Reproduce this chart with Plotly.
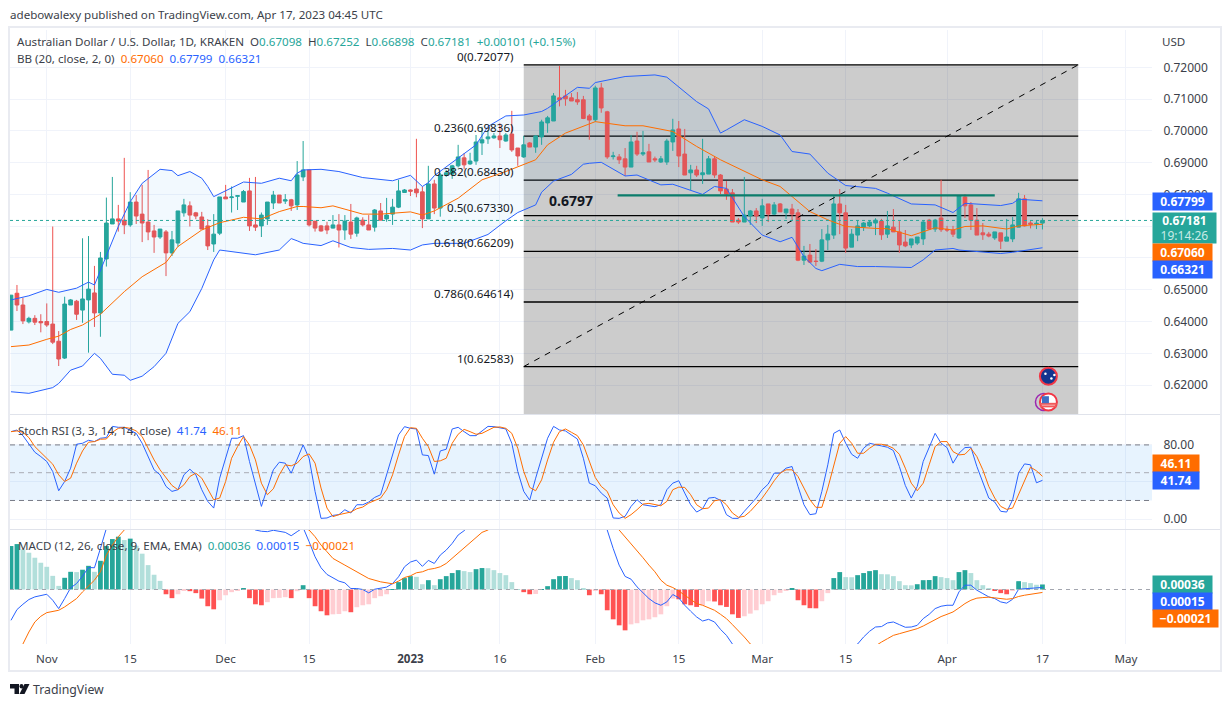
import pandas as pd
import plotly.graph_objects as go
from plotly.subplots import make_subplots

dates = pd.date_range("2022-10-26", periods=174)

opens = [
    .6373, .6489, .6452, .6399, .6410, .6400, .6400, .6392, .6338, .6285,
    .6452, .6464, .6436, .6468, .6490, .6427, .6597, .6707, .6723, .6719,
    .6704, .6776, .6738, .6713, .6685, .6666, .6682, .6616, .6647, .6742,
    .6764, .6742, .6729, .6701, .6644, .6678, .6792, .6790, .6794, .6776,
    .6811, .6704, .6701, .6723, .6773, .6798, .6779, .6783, .6767, .6855,
    .6877, .6716, .6701, .6701, .6694, .6704, .6688, .6713, .6678, .6719,
    .6704, .6697, .6748, .6723, .6738, .6760, .6806, .6814, .6817, .6808,
    .6723, .6833, .6757, .6862, .6864, .6890, .6915, .6896, .6905, .6962,
    .6975, .6978, .6984, .6968, .6990, .6946, .6918, .6962, .6949, .6981,
    .7025, .7031, .7104, .7110, .7104, .7098, .7098, .7047, .7035, .7135,
    .7060, .6919, .6918, .6912, .6886, .6968, .6927, .6934, .6912, .6902,
    .6902, .6965, .7006, .6927, .6868, .6877, .6862, .6864, .6912, .6861,
    .6817, .6805, .6719, .6713, .6732, .6748, .6726, .6770, .6738, .6770,
    .6742, .6754, .6742, .6593, .6609, .6590, .6590, .6657, .6672, .6770,
    .6742, .6634, .6672, .6697, .6701, .6710, .6716, .6675, .6697, .6682,
    .6650, .6641, .6647, .6660, .6719, .6691, .6726, .6690, .6688, .6663,
    .6792, .6767, .6719, .6679, .6675, .6663, .6679, .6653, .6660, .6697,
    .6786, .6710, .6707, .67098,
]
highs = [
    .6483, .6515, .6475, .6415, .6420, .6423, .6457, .6699, .6370, .6478,
    .6471, .6468, .6662, .6669, .6575, .6619, .6790, .6855, .6767, .6915,
    .6807, .6798, .6830, .6877, .6704, .6691, .6688, .6685, .6748, .6786,
    .6778, .6745, .6745, .6722, .6738, .6792, .6830, .6825, .6798, .6814,
    .6852, .6855, .6743, .6776, .6811, .6798, .6801, .6786, .6905, .6968,
    .6877, .6716, .6704, .6714, .6735, .6738, .6735, .6770, .6730, .6728,
    .6735, .6754, .6773, .6789, .6786, .6846, .6817, .6816, .6975, .6825,
    .6890, .6846, .6867, .6877, .6893, .6956, .6930, .6931, .6987, .7013,
    .7003, .6993, .7024, .6993, .7063, .6946, .6984, .6965, .6987, .7035,
    .7047, .7119, .7204, .7129, .7119, .7122, .7110, .7053, .7142, .7151,
    .7063, .6934, .6927, .6946, .6987, .6997, .7000, .6959, .6919, .6921,
    .6975, .7038, .7031, .7006, .6893, .6890, .6975, .6921, .6921, .6864,
    .6842, .6817, .6726, .6855, .6751, .6757, .6786, .6770, .6776, .6773,
    .6754, .6770, .6754, .6638, .6644, .6628, .6691, .6704, .6795, .6817,
    .6767, .6691, .6719, .6713, .6719, .6725, .6723, .6748, .6754, .6716,
    .6688, .6660, .6666, .6719, .6723, .6723, .6846, .6701, .6701, .6795,
    .6801, .6776, .6757, .6710, .6682, .6682, .6679, .6723, .6729, .6805,
    .6798, .6716, .6719, .67252,
]
lows = [
    .6373, .6433, .6392, .6394, .6389, .6366, .6383, .6329, .6260, .6282,
    .6452, .6405, .6396, .6302, .6383, .6352, .6573, .6707, .6683, .6675,
    .6698, .6707, .6650, .6656, .6616, .6660, .6543, .6606, .6635, .6730,
    .6699, .6722, .6691, .6625, .6619, .6672, .6786, .6743, .6751, .6776,
    .6685, .6685, .6666, .6704, .6754, .6773, .6770, .6748, .6751, .6842,
    .6699, .6683, .6683, .6675, .6693, .6633, .6657, .6660, .6667, .6699,
    .6688, .6683, .6719, .6714, .6704, .6757, .6805, .6795, .6791, .6694,
    .6723, .6738, .6730, .6855, .6849, .6885, .6879, .6893, .6893, .6924,
    .6959, .6975, .6946, .6966, .6934, .6890, .6915, .6949, .6931, .6956,
    .6994, .7031, .7077, .7079, .7094, .7082, .7037, .6972, .7028, .7057,
    .6912, .6910, .6896, .6858, .6886, .6921, .6921, .6902, .6902, .6899,
    .6893, .6937, .6886, .6861, .6814, .6855, .6833, .6864, .6852, .6801,
    .6783, .6713, .6707, .6713, .6704, .6710, .6701, .6713, .6735, .6745,
    .6723, .6719, .6590, .6578, .6584, .6575, .6587, .6625, .6660, .6675,
    .6616, .6634, .6653, .6685, .6697, .6672, .6657, .6663, .6682, .6616,
    .6634, .6631, .6641, .6641, .6688, .6682, .6682, .6682, .6666, .6660,
    .6726, .6688, .6672, .6657, .6665, .6657, .6628, .6653, .6650, .6697,
    .6699, .6693, .6691, .66898,
]
closes = [
    .6483, .6452, .6402, .6410, .6398, .6396, .6389, .6335, .6282, .6455,
    .6468, .6423, .6471, .6502, .6427, .6600, .6710, .6723, .6716, .6704,
    .6776, .6732, .6710, .6682, .6666, .6691, .6616, .6657, .6748, .6767,
    .6735, .6732, .6691, .6638, .6675, .6792, .6786, .6792, .6796, .6809,
    .6701, .6697, .6735, .6776, .6798, .6773, .6783, .6764, .6861, .6877,
    .6704, .6694, .6685, .6688, .6704, .6688, .6716, .6675, .6726, .6704,
    .6688, .6751, .6719, .6735, .6760, .6811, .6814, .6810, .6805, .6723,
    .6833, .6757, .6861, .6868, .6890, .6918, .6893, .6905, .6965, .6972,
    .6981, .6984, .6972, .6987, .6940, .6921, .6956, .6949, .6984, .7028,
    .7041, .7110, .7098, .7101, .7094, .7091, .7039, .7034, .7135, .7072,
    .6918, .6921, .6909, .6886, .6965, .6927, .6931, .6902, .6909, .6912,
    .6968, .7003, .6921, .6861, .6877, .6861, .6868, .6912, .6861, .6811,
    .6801, .6713, .6713, .6735, .6748, .6732, .6764, .6738, .6767, .6745,
    .6754, .6738, .6593, .6606, .6587, .6589, .6657, .6675, .6770, .6742,
    .6631, .6675, .6701, .6710, .6713, .6719, .6673, .6701, .6682, .6641,
    .6638, .6660, .6666, .6713, .6691, .6719, .6689, .6688, .6675, .6795,
    .6764, .6719, .6672, .6673, .6669, .6682, .6653, .6666, .6704, .6786,
    .6701, .6706, .6709, .67181,
]

# bollinger bands, read at the bars where the line bends (bar number from 1)
bb_upper_bars = [1, 4, 7, 9, 12, 14, 15, 16, 17, 19, 21, 23, 26, 28, 29, 31, 33, 34, 35, 37, 40, 43, 46, 48, 49,
                 50, 53, 56, 60, 65, 68, 70, 71, 72, 76, 79, 81, 84, 87, 90, 91, 96, 98, 99, 104, 109, 111, 116,
                 118, 120, 121, 124, 127, 130, 132, 135, 138, 141, 146, 148, 152, 156, 159, 161, 167, 169, 170, 174]
bb_upper = [.6468, .6481, .6501, .6492, .6505, .6524, .6515, .6562, .6604, .6699, .6777, .6835, .6879, .6875, .6859,
            .6872, .6851, .6825, .6793, .6812, .6839, .6835, .6851, .6843, .6867, .6877, .6879, .6872, .6853, .6843,
            .6860, .6825, .6837, .6859, .6914, .6956, .7014, .7047, .7050, .7061, .7071, .7137, .7134, .7152, .7171,
            .7176, .7169, .7092, .7069, .6993, .7003, .7035, .7014, .6987, .6935, .6927, .6867, .6828, .6819, .6804,
            .6770, .6767, .6743, .6772, .6765, .6772, .6785, .67799]
bb_lower_bars = [1, 4, 8, 9, 11, 13, 15, 16, 18, 20, 21, 23, 25, 27, 29, 31, 33, 35, 36, 40, 42, 46, 48, 49, 50, 53,
                 55, 58, 61, 65, 68, 70, 72, 77, 81, 84, 86, 89, 90, 92, 95, 97, 98, 100, 104, 106, 110, 112, 117,
                 119, 121, 124, 127, 130, 132, 134, 136, 137, 140, 143, 146, 152, 154, 156, 159, 160, 167, 169, 174]
bb_lower = [.6179, .6174, .6192, .6205, .6247, .6260, .6300, .6284, .6234, .6231, .6215, .6228, .6258, .6300, .6394,
            .6431, .6504, .6594, .6625, .6614, .6610, .6625, .6661, .6654, .6646, .6639, .6654, .6633, .6627, .6630,
            .6625, .6641, .6646, .6646, .6674, .6717, .6743, .6767, .6807, .6842, .6863, .6895, .6898, .6901, .6858,
            .6861, .6830, .6832, .6800, .6825, .6819, .6730, .6672, .6651, .6665, .6604, .6567, .6560, .6580, .6573,
            .6573, .6570, .6594, .6625, .6630, .6625, .6614, .6618, .66321]
bb_mid_bars = [1, 4, 7, 9, 11, 13, 16, 20, 23, 27, 29, 33, 36, 40, 43, 46, 49, 50, 53, 55, 60, 63, 68, 70, 72, 76,
               80, 84, 89, 91, 94, 97, 99, 104, 107, 112, 116, 120, 123, 127, 130, 132, 135, 138, 141, 146, 148,
               152, 156, 159, 161, 164, 168, 170, 174]
bb_mid = [.6321, .6326, .6344, .6354, .6375, .6389, .6423, .6494, .6541, .6586, .6636, .6688, .6711, .6728, .6723,
          .6746, .6762, .6762, .6758, .6764, .6738, .6738, .6745, .6735, .6748, .6788, .6846, .6872, .6909, .6956,
          .6993, .7016, .7029, .7016, .7016, .6998, .6951, .6909, .6882, .6846, .6825, .6793, .6746, .6720, .6699,
          .6693, .6692, .6670, .6695, .6688, .6699, .6701, .6691, .6701, .67060]

stoch_k = [
    94.3, 96.1, 90.0, 80.7, 72.1, 67.4, 62.1, 51.3, 30.5, 40.5,
    54.9, 80.7, 81.8, 85.0, 83.6, 87.2, 87.9, 100.0, 99.0, 99.0,
    96.1, 92.5, 81.8, 67.4, 53.1, 47.7, 35.2, 29.8, 31.6, 47.7,
    53.8, 47.7, 31.6, 19.0, 11.8, 44.1, 65.6, 87.2, 87.2, 90.0,
    62.1, 36.9, 13.6, 33.4, 53.1, 61.3, 60.3, 49.5, 65.6, 80.0,
    65.6, 29.8, 0.7, 1.1, 3.9, 4.7, 10.0, 6.5, 15.4, 15.4,
    18.3, 23.3, 26.2, 47.7, 69.2, 90.8, 99.7, 97.9, 97.2, 69.2,
    68.5, 48.4, 73.5, 75.3, 97.2, 99.0, 94.3, 90.0, 90.0, 95.4,
    100.0, 99.7, 98.6, 97.2, 81.8, 51.3, 29.8, 20.4, 44.1, 65.6,
    87.2, 100.0, 96.1, 95.1, 90.8, 86.4, 65.6, 38.7, 35.9, 28.0,
    22.6, 1.1, 0.7, 2.9, 13.6, 20.8, 15.4, 14.3, 13.3, 15.4,
    31.6, 38.7, 41.3, 28.0, 15.4, 7.5, 11.1, 22.6, 23.3, 20.1,
    4.7, 0.7, 0.7, 8.3, 15.4, 22.6, 31.6, 37.7, 49.5, 49.5,
    54.9, 56.7, 35.2, 15.4, 4.7, 5.7, 29.8, 58.5, 92.5, 96.1,
    81.8, 69.9, 65.6, 76.4, 81.8, 80.0, 78.9, 77.5, 73.9, 56.7,
    36.2, 22.6, 35.2, 62.1, 76.4, 92.5, 81.8, 77.1, 60.3, 71.0,
    77.1, 77.5, 56.7, 38.7, 22.6, 18.3, 8.3, 7.5, 20.8, 49.5,
    59.5, 58.5, 39.1, 41.74,
]
stoch_d = [
    94.3, 95.1, 93.6, 87.9, 78.2, 72.1, 66.4, 59.2, 47.7, 40.5,
    44.1, 60.3, 73.5, 82.9, 83.6, 86.1, 86.4, 93.6, 97.9, 99.0,
    97.9, 95.1, 89.0, 76.4, 63.8, 53.1, 44.1, 36.2, 31.6, 36.9,
    45.9, 49.5, 44.1, 32.6, 20.8, 22.6, 40.5, 65.6, 78.2, 89.0,
    80.0, 63.8, 38.7, 26.2, 32.6, 47.7, 58.5, 57.4, 60.3, 67.4,
    70.3, 60.3, 33.4, 11.8, 2.5, 4.7, 6.5, 7.5, 11.1, 12.9,
    17.2, 19.7, 22.6, 31.6, 47.7, 69.2, 89.0, 98.6, 97.9, 87.2,
    78.2, 62.1, 62.8, 65.6, 81.8, 91.5, 96.8, 94.3, 91.5, 92.5,
    96.1, 99.0, 99.4, 97.9, 92.5, 76.4, 51.3, 34.1, 30.5, 42.3,
    63.8, 82.9, 94.3, 97.2, 93.6, 90.0, 80.0, 62.1, 44.8, 35.2,
    29.8, 15.4, 6.5, 0.7, 4.7, 10.0, 16.1, 16.9, 15.4, 14.3,
    19.0, 31.6, 34.4, 34.1, 26.2, 15.4, 11.1, 11.8, 19.7, 20.8,
    15.4, 6.5, 1.8, 2.9, 8.3, 15.4, 22.6, 31.6, 41.3, 49.5,
    53.1, 53.1, 45.9, 33.4, 20.8, 12.6, 12.6, 33.4, 58.5, 81.8,
    89.0, 81.8, 71.0, 71.0, 76.4, 80.7, 80.7, 79.3, 76.4, 69.9,
    54.9, 38.7, 30.5, 38.7, 58.5, 78.2, 83.6, 83.6, 72.8, 69.2,
    69.9, 76.4, 67.4, 53.1, 35.2, 22.6, 13.6, 10.4, 11.8, 26.2,
    42.3, 56.0, 52.0, 46.11,
]

macd_hist = [
    .00312, .00326, .00288, .00264, .00228, .00192, .00163, .00098, .00026, .00084,
    .00127, .00125, .00142, .00170, .00127, .00206, .00312, .00362, .00379, .00355,
    .00365, .00314, .00257, .00175, .00106, .00062, -.00034, -.00062, -.00034, -.00007,
    -.00012, -.00026, -.00065, -.00120, -.00142, -.00077, -.00041, -.00019, -.00005, .00010,
    -.00062, -.00106, -.00113, -.00091, -.00062, -.00060, -.00055, -.00062, -.00012, .00031,
    -.00062, -.00120, -.00156, -.00185, -.00178, -.00176, -.00156, -.00163, -.00127, -.00113,
    -.00106, -.00062, -.00048, -.00034, .00002, .00053, .00082, .00096, .00091, .00038,
    .00067, .00031, .00074, .00096, .00118, .00139, .00132, .00125, .00146, .00154,
    .00153, .00139, .00118, .00103, .00053, .00002, -.00019, -.00034, -.00032, .00002,
    .00024, .00074, .00096, .00097, .00082, .00067, .00010, -.00041, -.00005, -.00034,
    -.00149, -.00214, -.00257, -.00293, -.00250, -.00242, -.00221, -.00214, -.00199, -.00178,
    -.00120, -.00065, -.00070, -.00106, -.00113, -.00125, -.00113, -.00084, -.00086, -.00113,
    -.00125, -.00178, -.00204, -.00192, -.00173, -.00149, -.00106, -.00084, -.00041, -.00024,
    -.00005, .00010, -.00077, -.00113, -.00134, -.00135, -.00084, -.00026, .00082, .00125,
    .00089, .00088, .00103, .00118, .00132, .00139, .00110, .00109, .00096, .00060,
    .00031, .00030, .00038, .00067, .00068, .00096, .00089, .00082, .00067, .00125,
    .00139, .00118, .00067, .00031, .00010, -.00007, -.00026, -.00034, -.00010, .00060,
    .00053, .00046, .00034, .00036,
]

macd_bars = [1, 2, 3, 4, 5, 6, 7, 8, 9, 10, 11, 12, 13, 14, 15, 16, 17, 18, 20, 26, 32, 38, 42, 43, 44, 45, 47, 48,
             49, 50, 51, 52, 53, 54, 56, 57, 58, 59, 60, 61, 62, 63, 64, 65, 66, 67, 68, 69, 70, 71, 72, 73, 74, 75,
             76, 77, 78, 84, 90, 96, 101, 102, 103, 104, 105, 106, 107, 108, 109, 110, 111, 112, 113, 114, 115, 116,
             117, 118, 119, 120, 121, 122, 123, 128, 134, 140, 143, 144, 145, 146, 147, 148, 149, 150, 151, 152,
             153, 154, 155, 156, 157, 158, 159, 160, 161, 162, 163, 164, 165, 166, 167, 168, 169, 170, 171, 172,
             173, 174]
macd_line = [-.00221, -.00144, -.00106, -.00072, -.00053, -.00041, -.00034, -.00077, -.00137, -.00065, .00012, .00043,
             .00096, .00158, .00156, .00295, .00463, .00583, .00703, .00823, .00727, .00535, .00427, .00418, .00415,
             .00425, .00410, .00386, .00415, .00444, .00343, .00235, .00156, .00108, .00060, .00048, .00007, .00007,
             .00000, -.00024, .00002, .00007, .00017, .00043, .00091, .00163, .00197, .00211, .00166, .00209, .00187,
             .00247, .00283, .00331, .00391, .00422, .00463, .00655, .00739, .00607, .00427, .00295, .00175, .00094,
             .00074, .00019, -.00022, -.00065, -.00096, -.00113, -.00089, -.00036, -.00060, -.00113, -.00156, -.00197,
             -.00226, -.00214, -.00233, -.00286, -.00329, -.00391, -.00497, -.00641, -.00641, -.00473, -.00391, -.00341,
             -.00300, -.00269, -.00266, -.00240, -.00233, -.00252, -.00271, -.00269, -.00257, -.00209, -.00178, -.00137,
             -.00120, -.00113, -.00113, -.00017, .00031, .00031, -.00005, -.00029, -.00053, -.00065, -.00089, -.00098,
             -.00070, .00002, .00005, .00007, .00010, .00015]
signal_bars = [1, 2, 3, 4, 5, 6, 7, 8, 9, 10, 11, 12, 13, 14, 15, 16, 17, 18, 19, 20, 26, 32, 38, 44, 51, 52, 53, 54,
               55, 57, 59, 61, 63, 65, 66, 67, 68, 69, 70, 71, 72, 73, 74, 75, 76, 77, 78, 79, 80, 81, 86, 92, 98, 103,
               104, 105, 106, 107, 108, 109, 110, 111, 112, 113, 114, 115, 116, 117, 118, 119, 120, 121, 122, 123,
               124, 125, 132, 140, 146, 147, 148, 149, 150, 151, 152, 153, 154, 155, 156, 157, 158, 159, 160, 161,
               162, 163, 164, 165, 166, 167, 168, 169, 170, 171, 172, 173, 174]
signal_line = [-.00500, -.00440, -.00391, -.00305, -.00233, -.00192, -.00166, -.00156, -.00149, -.00125, -.00094,
               -.00065, -.00017, .00026, .00067, .00127, .00247, .00319, .00379, .00427, .00727, .00823, .00727, .00535,
               .00427, .00379, .00319, .00271, .00223, .00175, .00127, .00079, .00055, .00041, .00060, .00086, .00098,
               .00120, .00127, .00144, .00151, .00163, .00187, .00223, .00259, .00295, .00331, .00367, .00410, .00427,
               .00583, .00703, .00583, .00427, .00379, .00331, .00276, .00228, .00175, .00127, .00067, .00031, .00014,
               -.00010, -.00041, -.00070, -.00101, -.00113, -.00132, -.00149, -.00178, -.00209, -.00252, -.00293,
               -.00341, -.00391, -.00593, -.00569, -.00401, -.00377, -.00353, -.00329, -.00317, -.00305, -.00298,
               -.00281, -.00262, -.00238, -.00216, -.00194, -.00178, -.00161, -.00132, -.00101, -.00077, -.00062,
               -.00058, -.00055, -.00060, -.00067, -.00070, -.00065, -.00050, -.00041, -.00034, -.00026, -.00021]

fib_ratios = ["0", "0.236", "0.382", "0.5", "0.618", "0.786", "1"]
fib_levels = [.72077, .69836, .68450, .67330, .66209, .64614, .62583]
fib_start = "2023-01-20"
fib_end = "2023-04-23"

resistance_level = 0.6797
resistance_start = "2023-02-04 18:00"
resistance_end = "2023-04-09"
last_price = 0.67181

price_ticks = [.62, .63, .64, .65, .66, .67, .68, .69, .70, .71, .72]
price_labels = ["0.62000", "0.63000", "0.64000", "0.65000", "", "", "0.68000", "0.69000", "0.70000", "0.71000",
                "0.72000"]
x_ticks = ["2022-11-01", "2022-11-15", "2022-12-01", "2022-12-15", "2023-01-01", "2023-01-16", "2023-02-01",
           "2023-02-15", "2023-03-01", "2023-03-15", "2023-04-01", "2023-04-17", "2023-05-01"]
x_labels = ["Nov", "15", "Dec", "15", "<b>2023</b>", "16", "Feb", "15", "Mar", "15", "Apr", "17", "May"]

GREEN = "#26a69a"
RED = "#ef5350"
BLUE = "#2962ff"
ORANGE = "#ff6d00"
GRID = "#f0f3fa"
TEXT = "#3c3f4a"
FONT = "Noto Sans"
W, H = 1232, 707
PRICE_RANGE = [.6109, .73174]
X_RANGE = ["2022-10-25 20:00", "2023-05-05 09:00"]


def px_x(x):
    return x / W


def px_y(y):
    return 1 - y / H


def bar_dates(bars):
    return [dates[b - 1] for b in bars]


def hist_color(i):
    prev = macd_hist[i - 1] if i else 0
    if macd_hist[i] >= 0:
        return GREEN if macd_hist[i] > prev or i == 0 else "#b2dfdb"
    return "#ffcdd2" if macd_hist[i] > prev else "#ff5252"


fig = make_subplots(rows=3, cols=1, shared_xaxes=True)

# bollinger band, fill first so the candles sit on top
upper_x = bar_dates(bb_upper_bars)
lower_x = bar_dates(bb_lower_bars)
fig.add_trace(go.Scatter(x=upper_x + lower_x[::-1], y=bb_upper + bb_lower[::-1], fill="toself",
                         fillcolor="rgba(33,150,243,0.06)", mode="none"), row=1, col=1)
fig.add_trace(go.Scatter(x=upper_x, y=bb_upper, mode="lines", line=dict(color=BLUE, width=1)), row=1, col=1)
fig.add_trace(go.Scatter(x=lower_x, y=bb_lower, mode="lines", line=dict(color=BLUE, width=1)), row=1, col=1)
fig.add_trace(go.Scatter(x=bar_dates(bb_mid_bars), y=bb_mid, mode="lines", line=dict(color=ORANGE, width=1)),
              row=1, col=1)
fig.add_trace(go.Candlestick(x=dates, open=opens, high=highs, low=lows, close=closes, whiskerwidth=0,
                             increasing=dict(line=dict(color=GREEN, width=1), fillcolor=GREEN),
                             decreasing=dict(line=dict(color=RED, width=1), fillcolor=RED)), row=1, col=1)

# fib diagonal and the hand drawn resistance
fig.add_trace(go.Scatter(x=[fib_start, fib_end], y=[fib_levels[-1], fib_levels[0]], mode="lines",
                         line=dict(color="#000000", width=1, dash="6px,6px")), row=1, col=1)
fig.add_trace(go.Scatter(x=[resistance_start, resistance_end], y=[resistance_level, resistance_level], mode="lines",
                         line=dict(color="#0b7d6b", width=2.2)), row=1, col=1)

# flag badges
fig.add_trace(go.Scatter(x=["2023-04-18"], y=[.6228], mode="markers",
                         marker=dict(size=17, color="#12358f", line=dict(color="#f23645", width=2))), row=1, col=1)
fig.add_trace(go.Scatter(x=["2023-04-17 12:00", "2023-04-18 12:00", "2023-04-19"], y=[.6236, .6221, .6232],
                         mode="markers", marker=dict(size=2.5, color="#ffffff")), row=1, col=1)
fig.add_trace(go.Scatter(x=["2023-04-17 06:00"], y=[.6147], mode="markers",
                         marker=dict(size=17, color="rgba(0,0,0,0)", line=dict(color="#9c27b0", width=1.5))),
              row=1, col=1)
fig.add_trace(go.Scatter(x=["2023-04-18"], y=[.6147], mode="markers",
                         marker=dict(size=17, color="#ffffff", line=dict(color="#f23645", width=2))), row=1, col=1)
fig.add_trace(go.Scatter(x=["2023-04-18", "2023-04-18"], y=[.6141, .6133], mode="markers",
                         marker=dict(size=12, symbol="line-ew", line=dict(color="#f05a5a", width=2))), row=1, col=1)
fig.add_trace(go.Scatter(x=["2023-04-17 12:00"], y=[.6154], mode="markers",
                         marker=dict(size=7, symbol="square", color="#3f6fc4")), row=1, col=1)

fig.add_trace(go.Scatter(x=dates, y=stoch_k, mode="lines", line=dict(color=BLUE, width=1)), row=2, col=1)
fig.add_trace(go.Scatter(x=dates, y=stoch_d, mode="lines", line=dict(color=ORANGE, width=1)), row=2, col=1)

fig.add_trace(go.Bar(x=dates, y=macd_hist, marker=dict(color=[hist_color(i) for i in range(len(macd_hist))],
                                                       line=dict(width=0))), row=3, col=1)
fig.add_trace(go.Scatter(x=bar_dates(macd_bars), y=macd_line, mode="lines", line=dict(color=BLUE, width=1)),
              row=3, col=1)
fig.add_trace(go.Scatter(x=bar_dates(signal_bars), y=signal_line, mode="lines", line=dict(color=ORANGE, width=1)),
              row=3, col=1)

for r in (1, 2, 3):
    fig.update_xaxes(range=X_RANGE, tickvals=x_ticks, ticktext=x_labels, showgrid=True, gridcolor=GRID, gridwidth=1,
                     domain=[px_x(10), px_x(1152)], showline=False, zeroline=False, rangeslider_visible=False,
                     tickfont=dict(family=FONT, size=11.6, color=TEXT), row=r, col=1)
fig.update_xaxes(ticks="outside", ticklen=4, tickcolor="rgba(0,0,0,0)", row=3, col=1)

axis_style = dict(side="right", gridcolor=GRID, gridwidth=1, showline=False, zeroline=False, ticks="outside",
                  ticklen=8, tickcolor="rgba(0,0,0,0)", tickfont=dict(family=FONT, size=12, color=TEXT))
fig.update_yaxes(range=PRICE_RANGE, domain=[px_y(414), px_y(30)], tickvals=price_ticks, ticktext=price_labels,
                 row=1, col=1, **axis_style)
fig.update_yaxes(range=[-10.8, 112.3], domain=[px_y(529), px_y(415)], tickvals=[0, 40, 80],
                 ticktext=["0.00", "", "80.00"], row=2, col=1, **axis_style)
fig.update_yaxes(range=[-.00391, .00427], domain=[px_y(644), px_y(530)], showticklabels=False, showgrid=False,
                 row=3, col=1, **{k: v for k, v in axis_style.items() if k not in ("ticks", "ticklen", "tickcolor")})

# shapes: fib block and levels, stoch band, separators, frame
shapes = [
    dict(type="rect", xref="x", yref="y", x0=fib_start, x1=fib_end, y0=PRICE_RANGE[0], y1=fib_levels[0],
         fillcolor="rgba(0,0,0,0.2)", line_width=0, layer="between"),
    dict(type="rect", xref="x2", yref="y2", x0=X_RANGE[0], x1=X_RANGE[1], y0=20, y1=80,
         fillcolor="rgba(33,150,243,0.11)", line_width=0, layer="between"),
    dict(type="line", xref="paper", yref="y", x0=px_x(10), x1=px_x(1152), y0=last_price, y1=last_price,
         line=dict(color=GREEN, width=1, dash="dot"), layer="above"),
    dict(type="line", xref="paper", yref="y3", x0=px_x(10), x1=px_x(1152), y0=0, y1=0,
         line=dict(color="#a3a6af", width=1, dash="4px,4px"), layer="above"),
    dict(type="line", xref="paper", yref="paper", x0=px_x(10), x1=px_x(1221), y0=px_y(414.5), y1=px_y(414.5),
         line=dict(color="#e0e3eb", width=1)),
    dict(type="line", xref="paper", yref="paper", x0=px_x(10), x1=px_x(1221), y0=px_y(529.5), y1=px_y(529.5),
         line=dict(color="#e0e3eb", width=1)),
    dict(type="rect", xref="paper", yref="paper", x0=px_x(9), x1=px_x(1221), y0=px_y(671), y1=px_y(27),
         line=dict(color="#e9ebf1", width=2), layer="above"),
    # TradingView logo
    dict(type="path", xref="paper", yref="paper", fillcolor="#131722", line_width=0,
         path=f"M {px_x(10)} {px_y(684)} L {px_x(19)} {px_y(684)} L {px_x(19)} {px_y(694)} L {px_x(14.5)} {px_y(694)} "
              f"L {px_x(14.5)} {px_y(688.5)} L {px_x(10)} {px_y(688.5)} Z"),
    dict(type="circle", xref="paper", yref="paper", fillcolor="#131722", line_width=0,
         x0=px_x(19.5), x1=px_x(23.5), y0=px_y(688.5), y1=px_y(684)),
    dict(type="path", xref="paper", yref="paper", fillcolor="#131722", line_width=0,
         path=f"M {px_x(24.5)} {px_y(684)} L {px_x(29.5)} {px_y(684)} L {px_x(24.5)} {px_y(694)} "
              f"L {px_x(19.5)} {px_y(694)} Z"),
]
for level in fib_levels:
    shapes.append(dict(type="line", xref="x", yref="y", x0=fib_start, x1=fib_end, y0=level, y1=level,
                       line=dict(color="#000000", width=1.3), layer="between"))
for value, color in ((80, "#787b86"), (50, "#a9acb4"), (20, "#787b86")):
    shapes.append(dict(type="line", xref="x2", yref="y2", x0=X_RANGE[0], x1=X_RANGE[1], y0=value, y1=value,
                       line=dict(color=color, width=1, dash="5px,4px"), layer="between"))


def label(x, y, text, anchor="left", size=11.6, color=TEXT):
    return dict(xref="paper", yref="paper", x=px_x(x), y=px_y(y), text=text, showarrow=False, xanchor=anchor,
                yanchor="middle", align=anchor, font=dict(family=FONT, size=size, color=color))


def badge(y0, y1, x1, text, fill):
    # value tag on the price scale
    return dict(xref="paper", yref="paper", x=px_x(1152), y=px_y((y0 + y1) / 2), text=text, showarrow=False,
                xanchor="left", yanchor="middle", width=x1 - 1152, height=y1 - y0, bgcolor=fill, borderpad=0,
                align="center", font=dict(family=FONT, size=12, color="#ffffff"))


def tinted(text, color):
    return f'<span style="color:{color}">{text}</span>'


annotations = [
    label(8, 15, "adebowalexy published on TradingView.com, Apr 17, 2023 04:45 UTC"),
    label(15, 41, "Australian Dollar / U.S. Dollar, 1D, KRAKEN  O" + tinted("0.67098", GREEN) + "  H"
          + tinted("0.67252", GREEN) + "  L" + tinted("0.66898", GREEN) + "  C" + tinted("0.67181", GREEN) + "  "
          + tinted("+0.00101 (+0.15%)", GREEN)),
    label(15, 59, "BB (20, close, 2, 0)  " + tinted("0.67060", ORANGE) + "  " + tinted("0.67799", BLUE) + "  "
          + tinted("0.66321", BLUE)),
    label(16, 430, "Stoch RSI (3, 3, 14, 14, close)  " + tinted("41.74", BLUE) + "  " + tinted("46.11", ORANGE)),
    label(16, 545, "MACD (12, 26, close, 9, EMA, EMA)  " + tinted("0.00036", GREEN) + "  " + tinted("0.00015", BLUE)
          + "  " + tinted("−0.00021", ORANGE)),
    label(1160, 41, "USD"),
    label(31, 689, "TradingView", size=12.3),
    label(547, 201, "<b>0.6797</b>", size=14, color="#131722"),
    badge(193, 210, 1211, "<b>0.67799</b>", BLUE),
    badge(213, 243, 1215, "<b>0.67181</b><br>" + tinted("19:14:26", "#c8ebe6"), GREEN),
    badge(244, 261, 1211, "<b>0.67060</b>", ORANGE),
    badge(261, 278, 1211, "<b>0.66321</b>", BLUE),
    badge(455, 472, 1198, "<b>46.11</b>", ORANGE),
    badge(472, 489, 1198, "<b>41.74</b>", BLUE),
    badge(576, 593, 1211, "<b>0.00036</b>", GREEN),
    badge(593, 610, 1211, "<b>0.00015</b>", BLUE),
    badge(610, 627, 1217, "<b>−0.00021</b>", ORANGE),
]
for ratio, level in zip(fib_ratios, fib_levels):
    annotations.append(dict(xref="x", yref="y", x=fib_start, y=level, text=f"{ratio}({level:.5f})", showarrow=False,
                            xanchor="right", yanchor="bottom", xshift=-8, yshift=-1,
                            font=dict(family=FONT, size=11.6, color="#131722")))

fig.update_layout(width=W, height=H, margin=dict(l=0, r=0, t=0, b=0), paper_bgcolor="white", plot_bgcolor="white",
                  showlegend=False, bargap=0.2, boxgap=0.12, shapes=shapes, annotations=annotations,
                  font=dict(family=FONT, size=12, color=TEXT), hovermode=False)

fig.write_html("out.html", config={"displayModeBar": False}, post_script="document.body.style.margin='0';")
